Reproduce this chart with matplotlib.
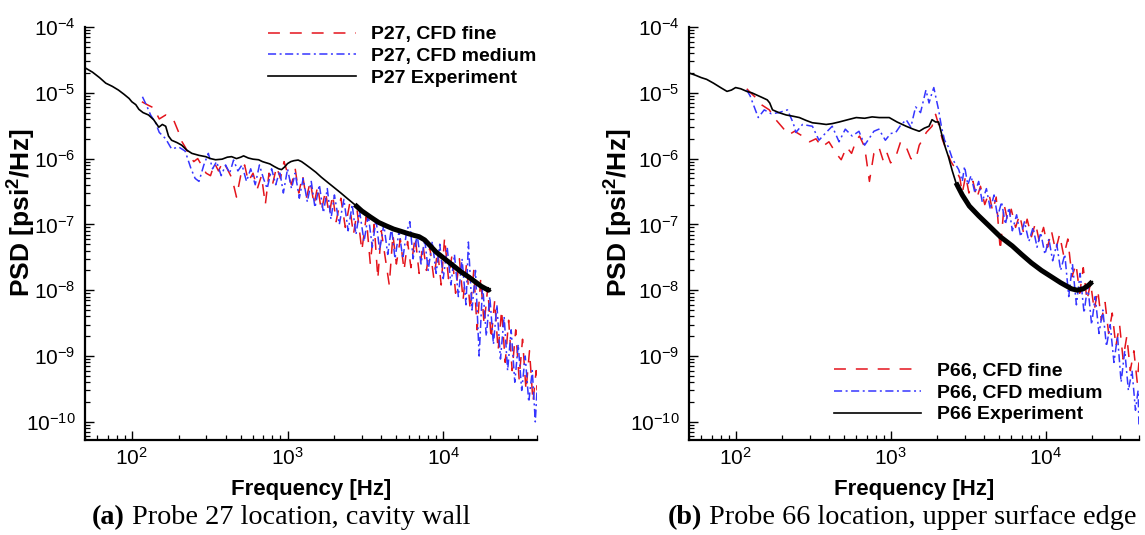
import matplotlib
matplotlib.use("Agg")
import matplotlib.pyplot as plt
import numpy as np
from matplotlib.ticker import LogLocator, LogFormatterSciNotation, NullFormatter

plt.rcParams["font.family"] = ["Liberation Sans", "DejaVu Sans"]
plt.rcParams["mathtext.fontset"] = "custom"
plt.rcParams["mathtext.rm"] = "Liberation Sans"
plt.rcParams["mathtext.it"] = "Liberation Sans:italic"
plt.rcParams["mathtext.bf"] = "Liberation Sans:bold"

# --------- data ---------

# (a) probe 27, experiment
f27_exp = [50, 56, 62, 68, 75, 82, 89, 96, 100, 106, 111, 118, 128, 138, 149, 157, 165, 172,
           180, 195, 209, 225, 243, 270, 298, 320, 345, 380, 410, 437, 470, 500, 522, 560,
           600, 652, 690, 722, 770, 820, 876, 915, 960, 1000, 1050, 1100, 1170, 1230, 1300,
           1400, 1520, 1650, 1800, 2000, 2200, 2460, 2700, 3000, 3400, 3850, 4300, 4800,
           5400, 6000, 6500, 7000, 7600, 8200, 9000, 10200, 11500, 13000, 14500, 16000,
           17500, 19500, 20000]
p27_exp = [2.4e-5, 2.05e-5, 1.7e-5, 1.4e-5, 1.25e-5, 1.1e-5, 9.5e-6, 8.2e-6, 7.3e-6, 6.6e-6,
           5.6e-6, 5.0e-6, 4.6e-6, 3.9e-6, 3.0e-6, 3.3e-6, 3.1e-6, 2.2e-6, 1.9e-6, 1.75e-6,
           1.6e-6, 1.35e-6, 1.2e-6, 1.12e-6, 1.07e-6, 1.0e-6, 9.6e-7, 9.8e-7, 1.05e-6,
           1.07e-6, 1.0e-6, 1.05e-6, 1.1e-6, 1.02e-6, 9.8e-7, 9.6e-7, 9.0e-7, 8.7e-7, 8.3e-7,
           7.6e-7, 7.0e-7, 6.8e-7, 7.5e-7, 8.4e-7, 9.0e-7, 9.3e-7, 9.5e-7, 9.0e-7, 8.2e-7,
           7.2e-7, 6.2e-7, 5.2e-7, 4.4e-7, 3.6e-7, 3.0e-7, 2.4e-7, 2.0e-7, 1.6e-7, 1.3e-7,
           1.07e-7, 9.5e-8, 8.5e-8, 7.8e-8, 7.2e-8, 6.8e-8, 6.5e-8, 5.8e-8, 4.8e-8, 3.8e-8,
           3.0e-8, 2.4e-8, 1.9e-8, 1.6e-8, 1.35e-8, 1.15e-8, 1.0e-8, 1.05e-8]

# (a) probe 27, CFD fine
f27_fine = [116, 127, 138, 150, 165, 176, 186, 200, 210, 220, 235, 250, 265, 280, 300, 320,
            340, 360, 385, 410, 440, 470, 500, 530, 560, 600, 640, 680, 720, 760, 800, 850,
            900, 950, 1000, 1060, 1120, 1180, 1250, 1320, 1400, 1480, 1560, 1650, 1750, 1850,
            1950, 2050, 2200, 2350, 2500, 2650, 2800, 3000, 3200, 3400, 3600, 3800, 4000,
            4250, 4500, 4750, 5000, 5300, 5600, 5900, 6200, 6600, 7000, 7400, 7800, 8200,
            8700, 9200, 9700, 10200, 10800, 11400, 12000, 12700, 13400, 14100, 14900, 15700,
            16500, 17400, 18300, 19300, 20300, 21400, 22500, 23700, 25000, 26300, 27700,
            29200, 30700, 32300, 34000, 35800, 37700, 39500, 40000]
p27_fine = [7.3e-6, 6.5e-6, 5.9e-6, 4.0e-6, 4.6e-6, 4.3e-6, 3.8e-6, 2.5e-6, 1.8e-6, 1.5e-6,
            1.1e-6, 9.0e-7, 1.0e-6, 8.0e-7, 6.0e-7, 5.5e-7, 8.5e-7, 6.5e-7, 9.0e-7, 7.0e-7,
            5.0e-7, 2.6e-7, 5.5e-7, 8.0e-7, 4.5e-7, 6.0e-7, 3.5e-7, 5.5e-7, 2.0e-7, 6.0e-7,
            4.0e-7, 7.5e-7, 5.0e-7, 9.0e-7, 6.0e-7, 4.0e-7, 7.0e-7, 3.0e-7, 5.5e-7, 2.5e-7,
            4.5e-7, 2.0e-7, 3.8e-7, 1.6e-7, 3.2e-7, 1.4e-7, 2.8e-7, 1.1e-7, 2.5e-7, 9.0e-8,
            2.0e-7, 7.0e-8, 1.6e-7, 4.0e-8, 1.3e-7, 2.5e-8, 1.0e-7, 1.5e-8, 8.0e-8, 3.0e-8,
            1.2e-8, 7.0e-8, 2.5e-8, 6.0e-8, 2.0e-8, 5.5e-8, 2.2e-8, 6.5e-8, 1.8e-8, 5.0e-8,
            2.0e-8, 4.5e-8, 1.5e-8, 4.0e-8, 1.2e-8, 6.3e-8, 1.5e-8, 3.5e-8, 9.0e-9, 3.0e-8,
            7.0e-9, 2.5e-8, 5.0e-9, 2.0e-8, 2.5e-9, 1.5e-8, 3.0e-9, 1.1e-8, 1.8e-9, 7.0e-9,
            1.2e-9, 5.0e-9, 8.0e-10, 3.5e-9, 6.0e-10, 2.5e-9, 4.5e-10, 1.8e-9, 3.0e-10,
            1.2e-9, 2.0e-10, 6.0e-10, 3.0e-10]

# (a) probe 27, CFD medium
f27_med = [117, 124, 132, 142, 150, 165, 180, 200, 220, 240, 255, 270, 290, 310, 330, 350,
           375, 400, 425, 450, 480, 510, 545, 580, 620, 660, 700, 740, 790, 840, 890, 940,
           1000, 1060, 1120, 1190, 1260, 1340, 1420, 1500, 1600, 1700, 1800, 1900, 2000,
           2150, 2300, 2450, 2600, 2750, 2900, 3100, 3300, 3500, 3700, 3900, 4150, 4400,
           4650, 4900, 5200, 5500, 5800, 6100, 6400, 6800, 7200, 7600, 8000, 8500, 9000,
           9500, 10000, 10600, 11200, 11800, 12500, 13200, 14000, 14500, 15300, 16100,
           17000, 17900, 18900, 19900, 21000, 22100, 23300, 24600, 25900, 27300, 28800,
           30300, 31900, 33600, 35400, 37300, 39000, 40000]
p27_med = [8.7e-6, 6.5e-6, 4.6e-6, 3.5e-6, 2.5e-6, 2.0e-6, 1.4e-6, 1.5e-6, 1.3e-6, 7.0e-7,
           5.0e-7, 4.5e-7, 8.0e-7, 1.2e-6, 7.0e-7, 9.0e-7, 5.5e-7, 8.0e-7, 6.0e-7, 9.5e-7,
           6.5e-7, 8.0e-7, 4.5e-7, 7.0e-7, 4.0e-7, 8.0e-7, 5.0e-7, 3.5e-7, 7.0e-7, 4.0e-7,
           6.5e-7, 3.0e-7, 7.0e-7, 3.5e-7, 6.0e-7, 2.5e-7, 5.0e-7, 2.2e-7, 4.5e-7, 1.8e-7,
           4.0e-7, 1.5e-7, 3.5e-7, 1.2e-7, 2.8e-7, 1.0e-7, 2.4e-7, 8.0e-8, 2.0e-7, 7.0e-8,
           1.6e-7, 5.5e-8, 1.4e-7, 4.5e-8, 1.2e-7, 4.0e-8, 1.0e-7, 3.5e-8, 9.0e-8, 3.0e-8,
           8.0e-8, 3.0e-8, 7.5e-8, 1.1e-7, 3.0e-8, 7.0e-8, 2.5e-8, 6.0e-8, 2.0e-8, 5.5e-8,
           1.8e-8, 5.0e-8, 1.5e-8, 4.5e-8, 1.2e-8, 3.5e-8, 8.0e-9, 3.0e-8, 6.0e-9, 5.4e-8,
           5.0e-9, 2.0e-8, 1.0e-9, 1.2e-8, 2.0e-9, 8.0e-9, 1.5e-9, 6.0e-9, 9.0e-10, 4.0e-9,
           6.0e-10, 2.5e-9, 4.0e-10, 1.5e-9, 3.0e-10, 1.0e-9, 2.0e-10, 6.0e-10, 1.0e-10,
           3.0e-10]

# (b) probe 66, experiment
f66_exp = [50, 55, 60, 65, 72, 80, 88, 94, 100, 108, 118, 127, 136, 148, 160, 166, 173, 190,
           212, 235, 258, 285, 313, 350, 384, 420, 466, 530, 600, 680, 760, 845, 980, 1100,
           1260, 1400, 1530, 1650, 1770, 1850, 1950, 2040, 2150, 2250, 2360, 2500, 2640,
           2900, 3220, 3700, 4300, 5100, 6100, 7000, 8100, 9400, 10900, 12500, 14700,
           16000, 17500, 19000, 20000]
p66_exp = [2.0e-5, 1.85e-5, 1.7e-5, 1.6e-5, 1.4e-5, 1.2e-5, 1.05e-5, 1.1e-5, 1.2e-5, 1.15e-5,
           1.05e-5, 1.0e-5, 9.3e-6, 8.5e-6, 7.8e-6, 7.0e-6, 5.5e-6, 5.0e-6, 4.6e-6, 4.4e-6,
           4.2e-6, 3.8e-6, 3.5e-6, 3.4e-6, 3.3e-6, 3.4e-6, 3.6e-6, 3.9e-6, 4.2e-6, 4.1e-6,
           4.3e-6, 4.2e-6, 4.2e-6, 3.6e-6, 3.1e-6, 2.8e-6, 2.6e-6, 2.9e-6, 3.1e-6, 3.9e-6,
           3.6e-6, 3.6e-6, 2.2e-6, 1.5e-6, 1.07e-6, 6.5e-7, 4.3e-7, 2.8e-7, 1.9e-7, 1.35e-7,
           9.6e-8, 6.5e-8, 4.7e-8, 3.5e-8, 2.6e-8, 2.0e-8, 1.6e-8, 1.3e-8, 1.05e-8, 1.0e-8,
           1.05e-8, 1.2e-8, 1.35e-8]

# (b) probe 66, CFD fine
f66_fine = [118, 125, 133, 148, 165, 180, 200, 220, 240, 270, 300, 330, 360, 400, 445, 480,
            520, 560, 600, 630, 680, 730, 780, 840, 900, 950, 1000, 1080, 1160, 1260, 1350,
            1450, 1530, 1600, 1700, 1850, 1950, 2040, 2150, 2300, 2450, 2640, 2800, 2900,
            3050, 3200, 3400, 3600, 3800, 4050, 4300, 4550, 4800, 5100, 5400, 5700, 6000,
            6400, 6800, 7200, 7600, 8100, 8600, 9100, 9700, 10300, 10900, 11600, 12300,
            13100, 13900, 14800, 15700, 16600, 17500, 18500, 19500, 20600, 21700, 22900,
            24200, 25500, 26900, 28400, 30000, 31600, 33400, 35200, 37100, 39000, 40000]
p66_fine = [1.15e-5, 1.0e-5, 8.7e-6, 6.5e-6, 5.5e-6, 4.0e-6, 3.0e-6, 2.3e-6, 2.6e-6, 2.2e-6,
            1.8e-6, 2.0e-6, 1.5e-6, 1.8e-6, 1.2e-6, 9.6e-7, 1.5e-6, 1.2e-6, 1.9e-6, 2.2e-6,
            1.5e-6, 4.5e-7, 1.2e-6, 1.5e-6, 9.0e-7, 1.2e-6, 8.6e-7, 1.07e-6, 1.8e-6, 1.5e-6,
            1.0e-6, 9.6e-7, 1.6e-6, 1.9e-6, 2.5e-6, 3.1e-6, 4.7e-6, 3.3e-6, 2.0e-6, 1.3e-6,
            9.0e-7, 6.8e-7, 5.0e-7, 3.0e-7, 5.5e-7, 3.0e-7, 4.5e-7, 2.5e-7, 3.8e-7, 2.0e-7,
            3.0e-7, 1.6e-7, 2.6e-7, 4.0e-8, 2.0e-7, 1.1e-7, 1.7e-7, 9.0e-8, 1.4e-7, 7.5e-8,
            1.2e-7, 6.5e-8, 1.05e-7, 5.5e-8, 9.0e-8, 4.5e-8, 8.0e-8, 4.0e-8, 7.0e-8, 3.3e-8,
            6.0e-8, 1.6e-8, 2.5e-8, 9.0e-9, 2.2e-8, 7.0e-9, 1.3e-8, 5.0e-9, 1.0e-8, 3.5e-9,
            6.5e-9, 2.2e-9, 4.5e-9, 1.4e-9, 3.0e-9, 9.0e-10, 2.0e-9, 6.0e-10, 1.2e-9, 4.0e-10,
            8.0e-10]

# (b) probe 66, CFD medium
f66_med = [118, 124, 129, 140, 153, 170, 190, 216, 235, 245, 270, 313, 345, 384, 420, 465,
           510, 565, 625, 680, 725, 780, 840, 925, 1000, 1080, 1160, 1260, 1350, 1450, 1560,
           1690, 1770, 1850, 1900, 1970, 2040, 2130, 2230, 2360, 2500, 2640, 2750, 2900,
           3000, 3150, 3300, 3500, 3700, 3900, 4150, 4400, 4650, 4900, 5200, 5500, 5800,
           6100, 6500, 6900, 7300, 7800, 8300, 8800, 9300, 9900, 10500, 11100, 11800, 12500,
           13300, 14100, 14900, 15800, 16700, 17700, 18700, 19800, 20900, 22100, 23400,
           24700, 26100, 27600, 29100, 30700, 32400, 34200, 36100, 38000, 39500, 40000]
p66_med = [1.1e-5, 9.0e-6, 7.0e-6, 4.2e-6, 5.5e-6, 4.8e-6, 5.0e-6, 5.5e-6, 3.5e-6, 2.5e-6,
           3.3e-6, 3.1e-6, 1.9e-6, 2.5e-6, 3.1e-6, 1.8e-6, 2.8e-6, 2.2e-6, 2.6e-6, 1.6e-6,
           2.0e-6, 2.6e-6, 2.8e-6, 1.9e-6, 2.4e-6, 2.5e-6, 3.2e-6, 3.9e-6, 3.0e-6, 6.1e-6,
           5.0e-6, 1.1e-5, 7.0e-6, 1.0e-5, 1.2e-5, 8.0e-6, 5.5e-6, 3.0e-6, 1.9e-6, 1.5e-6,
           1.0e-6, 8.0e-7, 6.8e-7, 4.5e-7, 7.6e-7, 4.0e-7, 5.5e-7, 3.0e-7, 4.5e-7, 2.2e-7,
           3.5e-7, 1.7e-7, 2.8e-7, 1.3e-7, 2.2e-7, 1.0e-7, 1.8e-7, 8.0e-8, 1.4e-7, 6.5e-8,
           1.1e-7, 5.5e-8, 9.0e-8, 4.5e-8, 7.5e-8, 3.5e-8, 6.0e-8, 2.8e-8, 5.0e-8, 2.0e-8,
           3.5e-8, 8.0e-9, 2.5e-8, 6.0e-9, 1.8e-8, 4.5e-9, 1.2e-8, 3.0e-9, 8.0e-9, 2.2e-9,
           5.0e-9, 1.4e-9, 3.0e-9, 8.0e-10, 2.0e-9, 4.0e-10, 1.2e-9, 3.0e-10, 6.0e-10,
           1.5e-10, 3.0e-10, 9.0e-11]

RED = "#e4141c"
BLUE = "#3535ff"


def draw_panel(ax, probe, f_fine, p_fine, f_med, p_med, f_exp, p_exp, thick_from, ylab_x):
    ax.plot(f_fine, p_fine, color=RED, lw=1.1, dashes=(7.8, 6.5),
            label=f"P{probe}, CFD fine")
    ax.plot(f_med, p_med, color=BLUE, lw=1.1, dashes=(5.3, 2.3, 1.3, 2.3),
            label=f"P{probe}, CFD medium")
    ax.plot(f_exp, p_exp, color="black", lw=1.2, label=f"P{probe} Experiment")
    # the measured spectrum is dense at high frequency and reads as a thick trace
    fe = np.array(f_exp)
    pe = np.array(p_exp)
    hi = fe >= thick_from
    ax.plot(fe[hi], pe[hi], color="black", lw=3.6, solid_capstyle="butt")

    ax.set_xscale("log")
    ax.set_yscale("log")
    ax.set_xlim(50, 40000)
    ax.set_ylim(5.3e-11, 1e-4)
    for side in ("top", "right"):
        ax.spines[side].set_visible(False)
    for side in ("left", "bottom"):
        ax.spines[side].set_linewidth(1.6)

    ax.xaxis.set_major_locator(LogLocator(base=10, numticks=10))
    ax.xaxis.set_minor_locator(LogLocator(base=10, subs=np.arange(2, 10), numticks=10))
    ax.yaxis.set_major_locator(LogLocator(base=10, numticks=12))
    ax.yaxis.set_minor_locator(LogLocator(base=10, subs=np.arange(2, 10), numticks=12))
    ax.xaxis.set_major_formatter(LogFormatterSciNotation())
    ax.yaxis.set_major_formatter(LogFormatterSciNotation())
    ax.xaxis.set_minor_formatter(NullFormatter())
    ax.yaxis.set_minor_formatter(NullFormatter())
    ax.tick_params(which="major", direction="in", length=6.5, width=1.0,
                   labelsize=15)
    ax.tick_params(axis="x", which="major", pad=5)
    ax.tick_params(axis="y", which="major", pad=7)
    ax.tick_params(which="minor", direction="in", length=3.5, width=0.9)

    ax.set_xlabel("Frequency [Hz]", fontsize=16, fontweight="bold")
    ax.xaxis.set_label_coords(0.5, -0.095)
    ax.set_ylabel(r"PSD [psi$^\mathbf{2}$/Hz]", fontsize=19, fontweight="bold")
    ax.yaxis.set_label_coords(ylab_x, 0.55)


fig = plt.figure(figsize=(11.45, 5.35), dpi=100)
ax1 = fig.add_axes([0.0742, 0.1776, 0.3948, 0.772])
ax2 = fig.add_axes([0.6017, 0.1776, 0.393, 0.772])

draw_panel(ax1, 27, f27_fine, p27_fine, f27_med, p27_med, f27_exp, p27_exp, 2500, -0.104)
draw_panel(ax2, 66, f66_fine, p66_fine, f66_med, p66_med, f66_exp, p66_exp, 2600, -0.12)

handles, labels = ax1.get_legend_handles_labels()
ax1.legend(handles[:3], labels[:3], loc="upper left", bbox_to_anchor=(0.405, 1.003),
           frameon=False, borderpad=0, borderaxespad=0, handlelength=4.5,
           handletextpad=0.8, labelspacing=0.22, prop={"weight": "bold", "size": 14})
handles, labels = ax2.get_legend_handles_labels()
ax2.legend(handles[:3], labels[:3], loc="lower left", bbox_to_anchor=(0.322, 0.04),
           frameon=False, borderpad=0, borderaxespad=0, handlelength=4.5,
           handletextpad=0.8, labelspacing=0.22, prop={"weight": "bold", "size": 14})

# captions under the panels: bold letter, then regular text
fig.canvas.draw()
renderer = fig.canvas.get_renderer()
captions = [("(a)", " Probe 27 location, cavity wall", 92),
            ("(b)", " Probe 66 location, upper surface edge", 668)]
for tag, rest, x0 in captions:
    t = fig.text(x0 / 1145, 1 - 524 / 535, tag, family="Liberation Serif",
                 fontweight="bold", fontsize=20.3, va="baseline", ha="left")
    bb = t.get_window_extent(renderer)
    fig.text(bb.x1 / fig.bbox.width, 1 - 524 / 535, rest, family="Liberation Serif",
             fontsize=20.3, va="baseline", ha="left")

fig.savefig("out.png", dpi=100)
